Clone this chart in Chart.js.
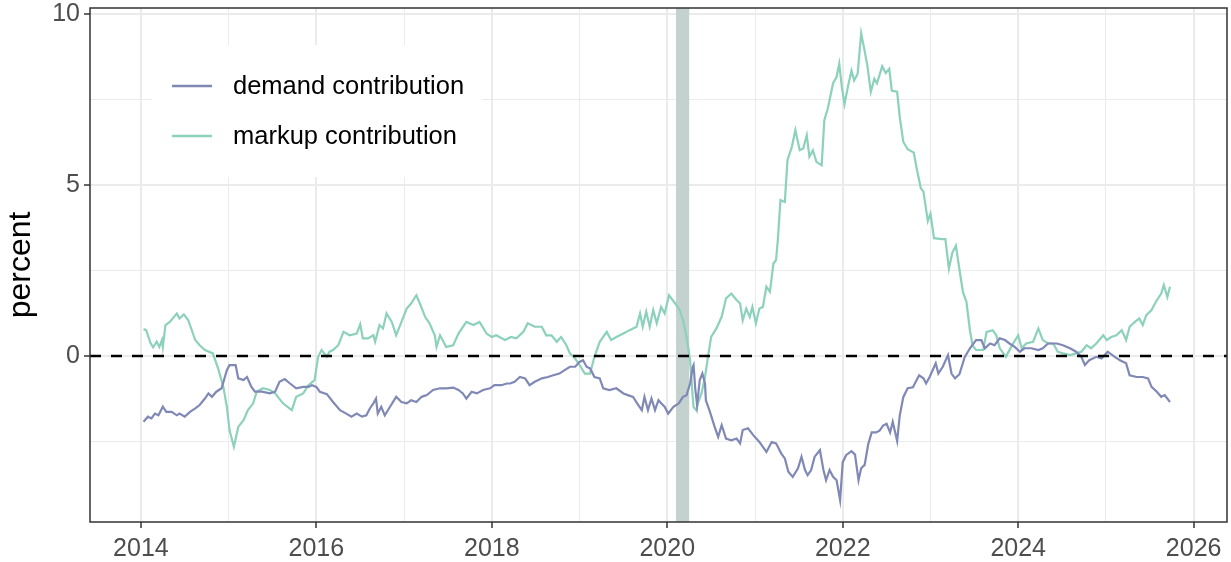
<!DOCTYPE html>
<html>
<head>
<meta charset="utf-8">
<script src="https://cdn.jsdelivr.net/npm/chart.js@4.4.1/dist/chart.umd.min.js"></script>
<style>
html,body{margin:0;padding:0;background:#ffffff;}
#wrap{width:1231px;height:562px;position:relative;}
</style>
</head>
<body>
<div id="wrap"><canvas id="c" width="1231" height="562"></canvas></div>
<script>
// ---------------- data ----------------
const seriesNames = ['demand contribution', 'markup contribution'];

const demandYears = [2014.03,2014.08,2014.12,2014.16,2014.20,2014.25,2014.29,2014.35,2014.41,2014.44,2014.50,2014.56,2014.62,2014.67,2014.73,2014.77,2014.81,2014.86,2014.92,2014.98,
2015.01,2015.08,2015.11,2015.17,2015.21,2015.26,2015.30,2015.38,2015.47,2015.53,2015.58,2015.64,2015.70,2015.77,2015.85,2015.91,2015.95,
2016.00,2016.04,2016.12,2016.19,2016.27,2016.34,2016.40,2016.46,2016.52,2016.57,2016.61,2016.65,2016.68,2016.70,2016.74,2016.78,2016.84,2016.91,2016.97,
2017.03,2017.08,2017.14,2017.20,2017.26,2017.33,2017.41,2017.48,2017.56,2017.62,2017.67,2017.71,2017.77,2017.83,2017.90,2017.98,
2018.03,2018.11,2018.17,2018.21,2018.26,2018.32,2018.38,2018.43,2018.49,2018.57,2018.64,2018.70,2018.77,2018.83,2018.89,2018.95,
2019.00,2019.04,2019.08,2019.12,2019.17,2019.23,2019.27,2019.34,2019.42,2019.50,2019.55,2019.61,2019.67,2019.71,2019.74,2019.78,2019.82,2019.86,2019.90,2019.93,2019.97,
2020.01,2020.07,2020.13,2020.18,2020.22,2020.26,2020.29,2020.30,2020.32,2020.34,2020.37,2020.40,2020.43,2020.44,2020.48,2020.54,2020.58,2020.62,2020.67,2020.73,2020.79,2020.83,2020.86,2020.92,2020.98,
2021.05,2021.13,2021.19,2021.24,2021.30,2021.34,2021.38,2021.43,2021.49,2021.53,2021.57,2021.60,2021.64,2021.68,2021.74,2021.78,2021.81,2021.85,2021.89,2021.93,2021.97,
2022.00,2022.04,2022.10,2022.14,2022.18,2022.21,2022.25,2022.29,2022.33,2022.38,2022.42,2022.46,2022.50,2022.54,2022.57,2022.62,2022.65,2022.69,2022.74,2022.80,2022.87,2022.92,2022.95,2022.99,
2023.06,2023.09,2023.14,2023.20,2023.24,2023.28,2023.33,2023.39,2023.45,2023.52,2023.58,2023.62,2023.68,2023.73,2023.79,2023.85,2023.90,2023.96,
2024.02,2024.07,2024.15,2024.23,2024.28,2024.34,2024.44,2024.51,2024.59,2024.66,2024.72,2024.76,2024.81,2024.89,2024.95,
2025.02,2025.10,2025.16,2025.23,2025.27,2025.35,2025.42,2025.48,2025.52,2025.58,2025.63,2025.67,2025.73];

const demandValues = [-1.92,-1.77,-1.82,-1.68,-1.73,-1.48,-1.63,-1.63,-1.73,-1.68,-1.77,-1.63,-1.53,-1.43,-1.24,-1.09,-1.19,-1.04,-0.94,-0.41,
-0.26,-0.26,-0.65,-0.70,-0.61,-0.90,-1.04,-1.04,-1.09,-1.04,-0.75,-0.67,-0.80,-0.94,-0.90,-0.90,-0.85,
-0.90,-1.04,-1.11,-1.34,-1.58,-1.68,-1.77,-1.68,-1.77,-1.73,-1.53,-1.38,-1.24,-1.68,-1.48,-1.73,-1.48,-1.19,-1.34,
-1.38,-1.29,-1.34,-1.19,-1.14,-0.99,-0.94,-0.94,-0.92,-0.99,-1.09,-1.24,-1.04,-1.09,-0.99,-0.94,
-0.85,-0.85,-0.80,-0.80,-0.75,-0.61,-0.65,-0.85,-0.75,-0.65,-0.61,-0.56,-0.51,-0.41,-0.31,-0.31,
-0.17,-0.12,-0.31,-0.36,-0.61,-0.65,-0.94,-0.99,-0.94,-1.09,-1.14,-1.19,-1.43,-1.58,-1.19,-1.58,-1.24,-1.58,-1.29,-1.38,-1.48,
-1.68,-1.48,-1.38,-1.19,-1.14,-0.80,-0.32,-0.26,-0.99,-1.43,-0.70,-0.51,-0.80,-1.29,-1.58,-2.07,-2.36,-2.02,-2.41,-2.46,-2.41,-2.55,-2.16,-2.11,-2.31,
-2.51,-2.80,-2.51,-2.55,-2.85,-2.99,-3.38,-3.53,-3.28,-2.94,-3.33,-3.48,-3.33,-2.94,-2.75,-3.33,-3.63,-3.33,-3.53,-3.63,-4.21,
-3.10,-2.89,-2.78,-2.88,-3.63,-3.28,-3.18,-2.58,-2.23,-2.23,-2.18,-2.03,-1.98,-2.23,-1.92,-2.48,-1.73,-1.20,-0.94,-0.91,-0.56,-0.65,-0.80,-0.61,
-0.21,-0.51,-0.31,0.03,-0.51,-0.65,-0.53,-0.03,0.23,0.47,0.47,0.23,0.37,0.32,0.52,0.47,0.37,0.27,
0.13,0.23,0.23,0.18,0.23,0.37,0.37,0.32,0.23,0.13,-0.02,-0.26,-0.12,-0.02,-0.07,
0.13,-0.02,-0.12,-0.21,-0.56,-0.61,-0.61,-0.65,-0.90,-1.04,-1.19,-1.14,-1.34];

const markupYears = [2014.03,2014.06,2014.11,2014.14,2014.18,2014.21,2014.24,2014.25,2014.28,2014.33,2014.41,2014.44,2014.49,2014.54,2014.62,2014.67,2014.73,2014.82,2014.88,2014.94,2014.98,
2015.01,2015.06,2015.11,2015.17,2015.22,2015.28,2015.32,2015.39,2015.47,2015.53,2015.62,2015.72,2015.77,2015.85,2015.91,2015.98,
2016.02,2016.06,2016.12,2016.15,2016.19,2016.25,2016.31,2016.38,2016.46,2016.50,2016.53,2016.59,2016.65,2016.67,2016.72,2016.76,2016.80,2016.86,2016.91,2016.97,
2017.03,2017.08,2017.14,2017.18,2017.24,2017.29,2017.35,2017.37,2017.41,2017.48,2017.56,2017.62,2017.71,2017.79,2017.86,2017.94,
2018.00,2018.05,2018.15,2018.22,2018.28,2018.36,2018.41,2018.49,2018.57,2018.62,2018.68,2018.74,2018.79,2018.85,2018.89,2018.95,
2019.00,2019.06,2019.12,2019.17,2019.23,2019.31,2019.36,2019.42,2019.50,2019.57,2019.65,2019.69,2019.72,2019.76,2019.80,2019.84,2019.88,2019.93,2019.97,
2020.02,2020.09,2020.14,2020.18,2020.22,2020.26,2020.29,2020.30,2020.33,2020.35,2020.39,2020.43,2020.47,2020.50,2020.56,2020.62,2020.67,2020.73,2020.79,2020.83,2020.86,2020.90,2020.94,2020.97,
2021.01,2021.05,2021.09,2021.13,2021.17,2021.21,2021.24,2021.26,2021.29,2021.34,2021.37,2021.42,2021.46,2021.51,2021.55,2021.59,2021.62,2021.66,2021.70,2021.76,2021.79,2021.83,2021.89,2021.93,2021.96,2021.99,
2022.02,2022.06,2022.10,2022.13,2022.17,2022.21,2022.24,2022.28,2022.32,2022.36,2022.39,2022.45,2022.49,2022.53,2022.56,2022.62,2022.65,2022.69,2022.74,2022.81,2022.84,2022.89,2022.92,2022.97,
2023.00,2023.04,2023.13,2023.17,2023.21,2023.25,2023.29,2023.33,2023.37,2023.41,2023.45,2023.48,2023.52,2023.56,2023.60,2023.64,2023.71,2023.75,2023.79,2023.86,2023.92,
2024.00,2024.04,2024.09,2024.17,2024.23,2024.28,2024.34,2024.40,2024.45,2024.51,2024.59,2024.66,2024.72,2024.78,2024.83,2024.89,2024.97,
2025.01,2025.06,2025.12,2025.18,2025.23,2025.27,2025.33,2025.38,2025.42,2025.46,2025.52,2025.57,2025.63,2025.66,2025.70,2025.73];

const markupValues = [0.79,0.76,0.38,0.26,0.42,0.27,0.47,0.27,0.91,1.00,1.25,1.10,1.22,1.05,0.47,0.32,0.18,0.08,-0.36,-0.90,-1.48,
-2.16,-2.65,-2.07,-1.87,-1.58,-1.38,-1.04,-0.94,-0.99,-1.09,-1.38,-1.58,-1.19,-1.09,-0.85,-0.70,
-0.02,0.18,-0.02,0.13,0.18,0.32,0.71,0.61,0.66,0.93,0.52,0.52,0.61,0.42,0.91,0.81,1.25,1.00,0.61,1.00,
1.39,1.54,1.78,1.54,1.15,0.96,0.61,0.27,0.61,0.27,0.32,0.66,1.00,0.91,1.00,0.66,
0.56,0.61,0.47,0.56,0.52,0.71,0.96,0.86,0.86,0.61,0.61,0.42,0.56,0.32,0.08,-0.07,
-0.26,-0.51,-0.51,-0.02,0.42,0.71,0.47,0.56,0.66,0.76,0.86,1.25,0.86,1.30,0.86,1.35,0.96,1.44,1.25,
1.78,1.54,1.35,1.05,0.56,-0.12,-1.20,-1.49,-1.58,-1.37,-1.09,-0.61,0.08,0.56,0.81,1.15,1.69,1.83,1.64,1.54,1.05,1.39,1.15,1.44,
0.96,1.39,1.44,2.03,1.88,2.71,2.81,3.39,4.56,4.51,5.73,6.12,6.61,6.02,6.07,6.46,5.83,6.02,5.68,5.58,6.90,7.24,7.98,8.16,8.55,7.87,
7.37,7.89,8.35,8.06,8.26,9.44,9.05,8.51,7.73,8.11,7.98,8.48,8.28,8.40,7.76,7.73,6.99,6.27,6.05,5.95,5.53,4.91,4.81,3.95,
4.17,3.45,3.42,3.42,2.56,3.03,3.23,2.54,1.87,1.59,0.75,0.31,0.18,0.18,0.18,0.71,0.76,0.61,0.23,-0.02,0.27,
0.61,0.23,0.37,0.42,0.81,0.47,0.37,0.37,0.13,0.08,0.03,0.08,0.13,0.32,0.23,0.37,0.61,
0.47,0.56,0.61,0.76,0.47,0.86,1.00,1.10,0.91,1.20,1.35,1.59,1.83,2.08,1.73,2.03];

const recessionSpan = [2020.10, 2020.25];
const xTickLabels = [2014, 2016, 2018, 2020, 2022, 2024, 2026];
const yTickLabels = [0, 5, 10];
const xRange = [2013.42, 2026.38];
const yRange = [-4.85, 10.18];
const referenceLineValue = 0;

// ---------------- styles ----------------
const FONT = "'Liberation Sans', Arial, Helvetica, sans-serif";
const colDemand = '#8088B5';
const colMarkup = '#8BD1BC';
const colors = [colDemand, colMarkup];

function isMajorX(v){ return xTickLabels.some(t => Math.abs(t - v) < 1e-6); }
function isMajorY(v){ return yTickLabels.some(t => Math.abs(t - v) < 1e-6); }

const toPoints = (xs, ys) => xs.map((x, i) => ({x: x, y: ys[i]}));

const decor = {
  id: 'decor',
  beforeDatasetsDraw(chart) {
    const {ctx, chartArea: a, scales: {x}} = chart;
    ctx.save();
    // recession shading
    const x0 = x.getPixelForValue(recessionSpan[0]);
    const x1 = x.getPixelForValue(recessionSpan[1]);
    ctx.fillStyle = '#C3D1CF';
    ctx.fillRect(x0, a.top, x1 - x0, a.bottom - a.top);
    // legend background
    ctx.fillStyle = '#ffffff';
    ctx.fillRect(a.left + 62, a.top + 37, 330, 132);
    ctx.restore();
  },
  afterDatasetsDraw(chart) {
    const {ctx, chartArea: a, scales: {y}} = chart;
    ctx.save();
    // zero reference line
    const yz = Math.round(y.getPixelForValue(referenceLineValue));
    ctx.strokeStyle = '#000000';
    ctx.lineWidth = 2.4;
    ctx.setLineDash([11, 10]);
    ctx.beginPath();
    ctx.moveTo(a.left, yz);
    ctx.lineTo(a.right, yz);
    ctx.stroke();
    ctx.setLineDash([]);
    // legend
    const rows = [a.top + 78, a.top + 128];
    chart.data.datasets.forEach((ds, i) => {
      ctx.strokeStyle = ds.borderColor;
      ctx.lineWidth = 2.4;
      ctx.beginPath();
      ctx.moveTo(a.left + 82, rows[i]);
      ctx.lineTo(a.left + 122, rows[i]);
      ctx.stroke();
      ctx.fillStyle = '#000000';
      ctx.font = '25.5px ' + FONT;
      ctx.textBaseline = 'middle';
      ctx.textAlign = 'left';
      ctx.fillText(ds.label, a.left + 143, rows[i] + 1);
    });
    // panel border
    ctx.strokeStyle = '#333333';
    ctx.lineWidth = 1.5;
    ctx.strokeRect(a.left, a.top, a.right - a.left, a.bottom - a.top);
    ctx.restore();
  }
};

new Chart(document.getElementById('c'), {
  type: 'line',
  data: {
    datasets: [
      {label: seriesNames[0], data: toPoints(demandYears, demandValues), borderColor: colors[0], borderWidth: 2.2, pointRadius: 0, tension: 0, fill: false},
      {label: seriesNames[1], data: toPoints(markupYears, markupValues), borderColor: colors[1], borderWidth: 2.2, pointRadius: 0, tension: 0, fill: false}
    ]
  },
  options: {
    responsive: false,
    animation: false,
    devicePixelRatio: 1,
    layout: {padding: {top: 8, right: 4, left: 0, bottom: 0}},
    plugins: {legend: {display: false}, tooltip: {enabled: false}},
    scales: {
      x: {
        type: 'linear',
        min: xRange[0], max: xRange[1],
        afterFit(s){ s.height = 40; s.paddingLeft = 0; s.paddingRight = 0; },
        border: {display: false},
        grid: {
          color: '#EBEBEB',
          lineWidth: c => (c.tick && isMajorX(c.tick.value)) ? 2 : 1,
          drawTicks: true,
          tickLength: 6,
          tickColor: c => (c.tick && isMajorX(c.tick.value)) ? '#333333' : 'rgba(0,0,0,0)',
          tickWidth: 1.5
        },
        ticks: {
          stepSize: 1,
          includeBounds: false,
          autoSkip: false,
          maxRotation: 0,
          padding: 6,
          color: '#4D4D4D',
          font: {family: FONT, size: 25},
          callback: v => isMajorX(v) ? String(Math.round(v)) : ''
        }
      },
      y: {
        type: 'linear',
        min: yRange[0], max: yRange[1],
        afterFit(s){ s.width = 90; s.paddingTop = 0; s.paddingBottom = 0; },
        border: {display: false},
        grid: {
          color: '#EBEBEB',
          lineWidth: c => (c.tick && isMajorY(c.tick.value)) ? 2 : 1,
          drawTicks: true,
          tickLength: 6,
          tickColor: c => (c.tick && isMajorY(c.tick.value)) ? '#333333' : 'rgba(0,0,0,0)',
          tickWidth: 1.5
        },
        ticks: {
          stepSize: 2.5,
          includeBounds: false,
          autoSkip: false,
          padding: 4,
          color: '#4D4D4D',
          font: {family: FONT, size: 25},
          callback: v => isMajorY(v) ? String(Math.round(v)) : ''
        },
        title: {
          display: true,
          text: 'percent',
          color: '#000000',
          font: {family: FONT, size: 32},
          padding: {top: 2, bottom: 0}
        }
      }
    }
  },
  plugins: [decor]
});
</script>
</body>
</html>
